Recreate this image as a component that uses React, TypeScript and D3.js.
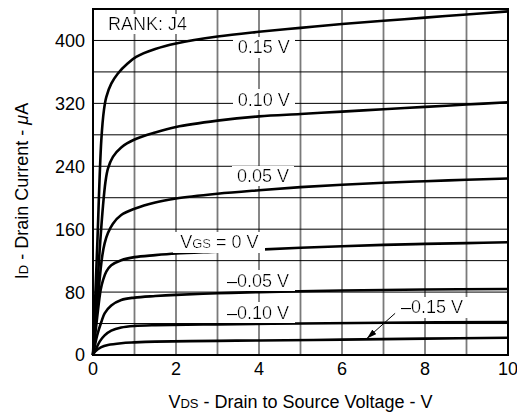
import * as d3 from "d3";

// Drain characteristics, rank J4 (V_DS in volts, I_D in µA)
const vgs015: [number, number][] = [
  [0, 0], [0.1, 136], [0.2, 273], [0.265, 312], [0.32, 328], [0.44, 345], [0.6, 358],
  [0.84, 371], [1.04, 379], [1.5, 389], [2, 396], [3, 405], [4, 411], [5, 416],
  [6, 421], [7, 425], [8, 429], [9, 433], [10, 437],
];
const vgs010: [number, number][] = [
  [0, 0], [0.16, 133], [0.24, 189], [0.3, 220], [0.36, 237], [0.48, 252], [0.68, 264],
  [1, 274], [1.5, 283], [2, 290], [3, 298], [4, 303.5], [5, 306.5], [6, 309.5],
  [7, 312.5], [8, 315.5], [9, 318.5], [10, 321.5],
];
const vgs005: [number, number][] = [
  [0, 0], [0.14, 85], [0.22, 125], [0.28, 142], [0.36, 155], [0.48, 167], [0.68, 178],
  [1, 186], [1.5, 194], [2, 199], [3, 205], [4, 209.5], [5, 213.5], [6, 216.5],
  [7, 219], [8, 221], [9, 222.8], [10, 224.5],
];
const vgs000: [number, number][] = [
  [0, 0], [0.1, 48], [0.185, 83], [0.24, 95], [0.32, 106], [0.44, 114], [0.68, 120.5],
  [1, 124.5], [1.5, 127], [2, 129], [3, 131.5], [4, 134], [5, 136.3], [6, 138.3],
  [7, 140], [8, 141.3], [9, 142.3], [10, 143.3],
];
const vgsM005: [number, number][] = [
  [0, 0], [0.1, 25], [0.2, 42], [0.28, 53], [0.44, 63], [0.68, 70], [1, 73], [1.5, 75],
  [2, 76.5], [3, 78.5], [4, 80], [6, 82], [8, 83.2], [10, 84],
];
const vgsM010: [number, number][] = [
  [0, 0], [0.08, 8.5], [0.16, 17], [0.28, 25], [0.44, 31], [0.68, 35], [1, 37],
  [1.5, 38], [3, 39], [5, 40], [7, 41], [10, 42],
];
const vgsM015: [number, number][] = [
  [0, 0], [0.04, 4], [0.2, 10], [0.36, 12.7], [0.68, 15], [1, 16], [1.5, 17], [3, 18],
  [4, 18.5], [6, 19.5], [8, 20.8], [10, 22],
];
const curves = [vgs015, vgs010, vgs005, vgs000, vgsM005, vgsM010, vgsM015];

// curve labels (left edge / baseline in data units)
const labelTexts = ["0.15 V", "0.10 V", "0.05 V", "VGS", "\u20130.05 V", "\u20130.10 V", "\u20130.15 V"];
const labelV = [3.49, 3.49, 3.47, 2.1, 3.23, 3.23, 7.42];
const labelI = [384, 317, 220, 136, 86.5, 46, 53];

const arrowFrom: [number, number] = [7.28, 53];
const arrowTo: [number, number] = [6.6, 21];

const xTicks = [0, 2, 4, 6, 8, 10];
const yTicks = [0, 80, 160, 240, 320, 400];
const xGrid = d3.range(0, 11, 1);
const yGrid = d3.range(0, 441, 40);

const W = 517;
const H = 417;
const margin = { top: 9, right: 9, bottom: 62, left: 93 };
const font = "'Liberation Sans', Arial, Helvetica, sans-serif";

export default function App() {
  const x = d3.scaleLinear().domain([0, 10]).range([margin.left, W - margin.right]);
  const y = d3.scaleLinear().domain([0, 440]).range([H - margin.bottom, margin.top]);
  const path = d3
    .line<[number, number]>()
    .x((d) => x(d[0]))
    .y((d) => y(d[1]))
    .curve(d3.curveCatmullRom.alpha(0.5));

  return (
    <svg
      width={W}
      height={H}
      style={{ position: "absolute", left: 0, top: 0, background: "#fff" }}
      fontFamily={font}
    >
      <defs>
        <filter id="bg" x="-0.08" y="0" width="1.16" height="1">
          <feFlood floodColor="#fff" />
          <feComposite in="SourceGraphic" operator="over" />
        </filter>
        <marker id="head" viewBox="0 0 10 6" refX="10" refY="3" markerWidth="10" markerHeight="6" markerUnits="userSpaceOnUse" orient="auto">
          <path d="M0,0L10,3L0,6Z" fill="#000" />
        </marker>
      </defs>

      {/* grid */}
      {xGrid.map((v) => (
        <line key={"gx" + v} x1={x(v)} x2={x(v)} y1={y(0)} y2={y(440)} stroke="#7a7a7a" strokeWidth={1.8} />
      ))}
      {yGrid.map((v) => (
        <line key={"gy" + v} x1={x(0)} x2={x(10)} y1={y(v)} y2={y(v)} stroke="#000" strokeWidth={1} />
      ))}

      {/* curves */}
      {curves.map((c, i) => (
        <path key={i} d={path(c) || ""} fill="none" stroke="#000" strokeWidth={2.6} strokeLinejoin="round" />
      ))}

      {/* labels */}
      {labelTexts.map((t, i) =>
        t === "VGS" ? (
          <text key={i} x={x(labelV[i])} y={y(labelI[i])} fontSize={18} filter="url(#bg)">
            V<tspan fontSize={13}>GS</tspan> = 0 V
          </text>
        ) : (
          <text key={i} x={x(labelV[i])} y={y(labelI[i])} fontSize={18} filter="url(#bg)">
            {t}
          </text>
        )
      )}
      <line
        x1={x(arrowFrom[0])}
        y1={y(arrowFrom[1])}
        x2={x(arrowTo[0])}
        y2={y(arrowTo[1])}
        stroke="#000"
        strokeWidth={1}
        markerEnd="url(#head)"
      />

      <text x={x(0) + 15} y={y(440) + 21} fontSize={18} filter="url(#bg)">RANK: J4</text>

      {/* frame */}
      <rect x={x(0)} y={y(440)} width={x(10) - x(0)} height={y(0) - y(440)} fill="none" stroke="#000" strokeWidth={2} />

      {/* ticks */}
      {yTicks.map((v) => (
        <text key={"ty" + v} x={x(0) - 8} y={y(v)} dy="0.36em" textAnchor="end" fontSize={18}>
          {v}
        </text>
      ))}
      {xTicks.map((v) => (
        <text key={"tx" + v} x={x(v)} y={y(0) + 20} textAnchor="middle" fontSize={18}>
          {v}
        </text>
      ))}

      {/* axis titles */}
      <text x={(x(0) + x(10)) / 2} y={408} textAnchor="middle" fontSize={18}>
        V<tspan fontSize={13}>DS</tspan> - Drain to Source Voltage - V
      </text>
      <text transform="translate(28,191) rotate(-90)" textAnchor="middle" fontSize={18}>
        I<tspan fontSize={13}>D</tspan> - Drain Current - <tspan fontStyle="italic">μ</tspan>A
      </text>
    </svg>
  );
}
